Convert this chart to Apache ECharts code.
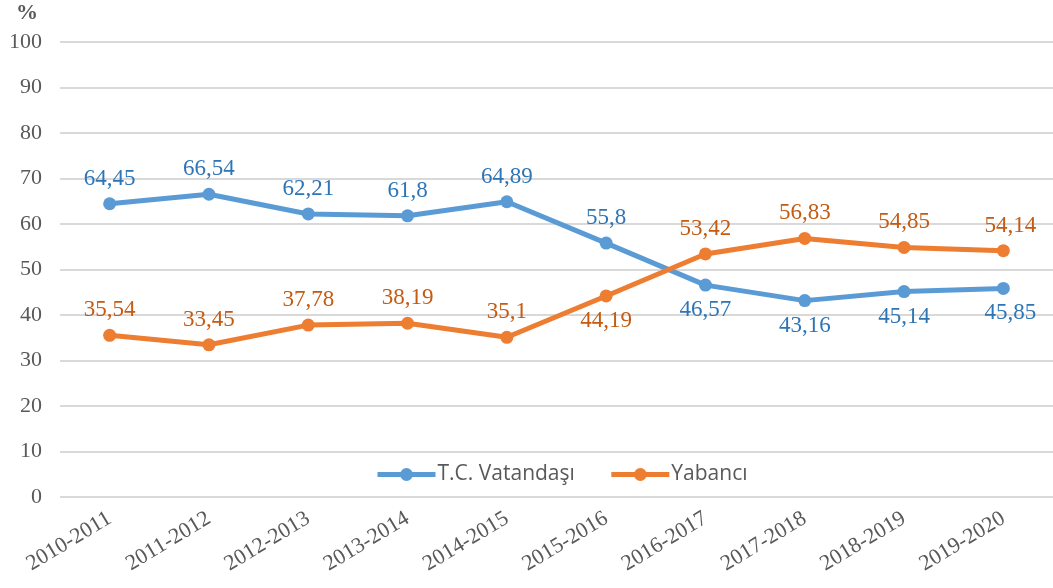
<!DOCTYPE html>
<html>
<head>
<meta charset="utf-8">
<script src="https://cdn.jsdelivr.net/npm/echarts@6/dist/echarts.min.js"></script>
<style>
  html, body { margin: 0; padding: 0; background: #fff; }
  #chart { width: 1053px; height: 588px; }
</style>
</head>
<body>
<div id="chart"></div>
<script>
  // kategoriler (öğretim yılları)
  var years = ['2010-2011', '2011-2012', '2012-2013', '2013-2014', '2014-2015',
    '2015-2016', '2016-2017', '2017-2018', '2018-2019', '2019-2020'];
  var vatandas = [64.45, 66.54, 62.21, 61.8, 64.89, 55.8, 46.57, 43.16, 45.14, 45.85];
  var yabanci = [35.54, 33.45, 37.78, 38.19, 35.1, 44.19, 53.42, 56.83, 54.85, 54.14];
  // etiket konumu: üst / alt
  var vatandasPos = ['top', 'top', 'top', 'top', 'top', 'top', 'bottom', 'bottom', 'bottom', 'bottom'];
  var yabanciPos = ['top', 'top', 'top', 'top', 'top', 'bottom', 'top', 'top', 'top', 'top'];

  var serif = '"Liberation Serif", "DejaVu Serif", serif';

  function fmt(v) {
    return String(v).replace('.', ',');
  }

  function buildData(values, positions) {
    return values.map(function (v, i) {
      var lbl = { position: positions[i] };
      if (i == values.length - 1) lbl.offset = [7, 0];
      return { value: v, label: lbl };
    });
  }

  var chart = echarts.init(document.getElementById('chart'));
  var option = {
    animation: false,
    grid: { left: 60, top: 42, width: 1000, height: 455, containLabel: false },
    graphic: [{
      type: 'text', left: 16, top: 2,
      style: { text: '%', font: 'bold 22px ' + serif, fill: '#595959' }
    }],
    legend: {
      left: 370, top: 459,
      itemWidth: 58, itemHeight: 16, itemGap: 34,
      lineStyle: { width: 5 },
      textStyle: { fontFamily: '"Open Sans", "Noto Sans", sans-serif', fontSize: 21, color: '#595959', padding: [0, 0, 0, -3] },
      data: ['T.C. Vatandaşı', 'Yabancı']
    },
    xAxis: {
      type: 'category',
      data: years,
      boundaryGap: true,
      axisLine: { show: false },
      axisTick: { show: false },
      axisLabel: { rotate: 31, fontFamily: serif, fontSize: 22, color: '#595959', margin: 20 }
    },
    yAxis: {
      type: 'value',
      min: 0, max: 100, interval: 10,
      axisLine: { show: false },
      axisTick: { show: false },
      axisLabel: { fontFamily: serif, fontSize: 22, color: '#595959', margin: 18 },
      splitLine: { lineStyle: { color: '#d9d9d9', width: 2 } }
    },
    series: [{
      name: 'T.C. Vatandaşı',
      type: 'line',
      data: buildData(vatandas, vatandasPos),
      symbol: 'circle', symbolSize: 13,
      lineStyle: { color: '#5b9bd5', width: 5 },
      itemStyle: { color: '#5b9bd5' },
      label: {
        show: true, distance: 7,
        fontFamily: serif, fontSize: 23, color: '#2e75b6',
        formatter: function (p) { return fmt(p.value); }
      }
    }, {
      name: 'Yabancı',
      type: 'line',
      data: buildData(yabanci, yabanciPos),
      symbol: 'circle', symbolSize: 13,
      lineStyle: { color: '#ed7d31', width: 5 },
      itemStyle: { color: '#ed7d31' },
      label: {
        show: true, distance: 7,
        fontFamily: serif, fontSize: 23, color: '#c55a11',
        formatter: function (p) { return fmt(p.value); }
      }
    }]
  };
  chart.setOption(option);
</script>
</body>
</html>
